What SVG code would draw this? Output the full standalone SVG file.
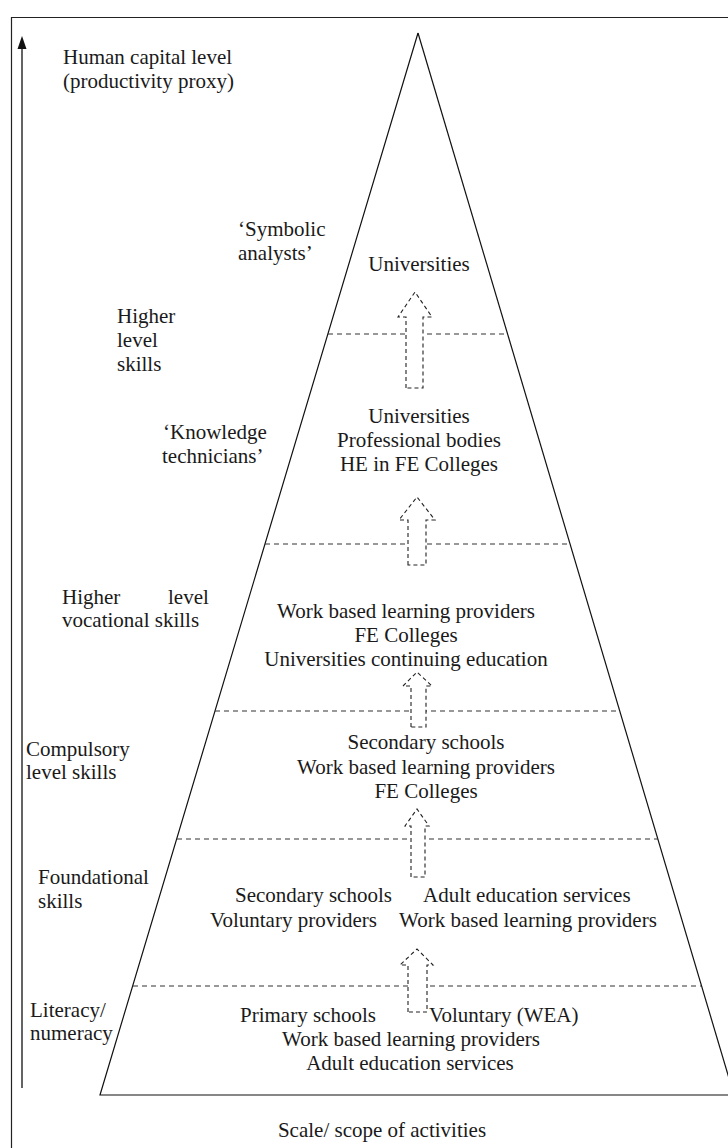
<svg xmlns="http://www.w3.org/2000/svg" width="728" height="1148" viewBox="0 0 728 1148">
<style>
text{font-size:21px;fill:#1a1a1a}
.c{text-anchor:middle}
.e{text-anchor:end}
.frame{fill:none;stroke:#222;stroke-width:1.2}
.side{fill:none;stroke:#111;stroke-width:1.2}
.div{fill:none;stroke:#333;stroke-width:1.1;stroke-dasharray:5 4}
.up{fill:#fff;stroke:#222;stroke-width:1.1;stroke-dasharray:4 3}
</style>
<rect width="728" height="1148" fill="#fff"/>
<path class="frame" d="M11.5 1148 V17.5 H728"/>
<g id="axis">
<line x1="22" y1="1088" x2="22" y2="40" stroke="#111" stroke-width="1.3"/>
<path d="M22 36 L26.5 49 L17.5 49 Z" fill="#111"/>
</g>
<g id="pyramid">
<path class="side" d="M418 33 L100 1095 L728 1095"/>
<path class="side" d="M418 33 L734 1095"/>
<line class="div" x1="328" y1="334" x2="507" y2="334"/>
<line class="div" x1="265" y1="544" x2="570" y2="544"/>
<line class="div" x1="215" y1="711" x2="620" y2="711"/>
<line class="div" x1="177" y1="839" x2="658" y2="839"/>
<line class="div" x1="133" y1="986" x2="701" y2="986"/>
</g>
<g id="connectors">
<path class="up" d="M406 388 V317 H398 L415 292 L432 317 H423 V388 Z"/>
<path class="up" d="M408 565 V520 H399 L417 497 L435 520 H426 V565 Z"/>
<path class="up" d="M411 727 V686 H403 L417 672 L432 686 H426 V727 Z"/>
<path class="up" d="M411 877 V826 H405 L417 809 L429 826 H425 V877 Z"/>
<path class="up" d="M408 1012 V965 H400 L417 949 L433 965 H427 V1012 Z"/>
</g>
<g font-family="Liberation Serif, Times New Roman, serif">
<g id="label-axis">
<text x="63" y="64">Human capital level</text>
<text x="63" y="88">(productivity proxy)</text>
</g>
<g id="label-symbolic">
<text x="238" y="236">‘Symbolic</text>
<text x="238" y="260">analysts’</text>
</g>
<g id="label-higher">
<text x="117" y="323">Higher</text>
<text x="117" y="347">level</text>
<text x="117" y="371">skills</text>
</g>
<g id="label-knowledge">
<text x="163" y="439">‘Knowledge</text>
<text x="162" y="463">technicians’</text>
</g>
<g id="label-vocational">
<text y="604"><tspan x="62">Higher</tspan><tspan x="168">level</tspan></text>
<text x="62" y="627">vocational skills</text>
</g>
<g id="label-compulsory">
<text x="26" y="756">Compulsory</text>
<text x="26" y="779">level skills</text>
</g>
<g id="label-foundational">
<text x="38" y="884">Foundational</text>
<text x="38" y="908">skills</text>
</g>
<g id="label-literacy">
<text x="30" y="1017">Literacy/</text>
<text x="30" y="1040">numeracy</text>
</g>
<g id="band-1">
<text class="c" x="419" y="271">Universities</text>
</g>
<g id="band-2">
<text class="c" x="419" y="423">Universities</text>
<text class="c" x="419" y="447">Professional bodies</text>
<text class="c" x="419" y="471">HE in FE Colleges</text>
</g>
<g id="band-3">
<text class="c" x="406" y="618">Work based learning providers</text>
<text class="c" x="406" y="642">FE Colleges</text>
<text class="c" x="406" y="666">Universities continuing education</text>
</g>
<g id="band-4">
<text class="c" x="426" y="749">Secondary schools</text>
<text class="c" x="426" y="774">Work based learning providers</text>
<text class="c" x="426" y="798">FE Colleges</text>
</g>
<g id="band-5">
<text x="235" y="902">Secondary schools</text>
<text x="423" y="902">Adult education services</text>
<text class="e" x="377" y="927">Voluntary providers</text>
<text x="399" y="927">Work based learning providers</text>
</g>
<g id="band-6">
<text x="240" y="1022">Primary schools</text>
<text x="429" y="1022">Voluntary (WEA)</text>
<text class="c" x="411" y="1046">Work based learning providers</text>
<text class="c" x="410" y="1070">Adult education services</text>
</g>
<g id="label-scale">
<text class="c" x="382" y="1137">Scale/ scope of activities</text>
</g>
</g>
</svg>
